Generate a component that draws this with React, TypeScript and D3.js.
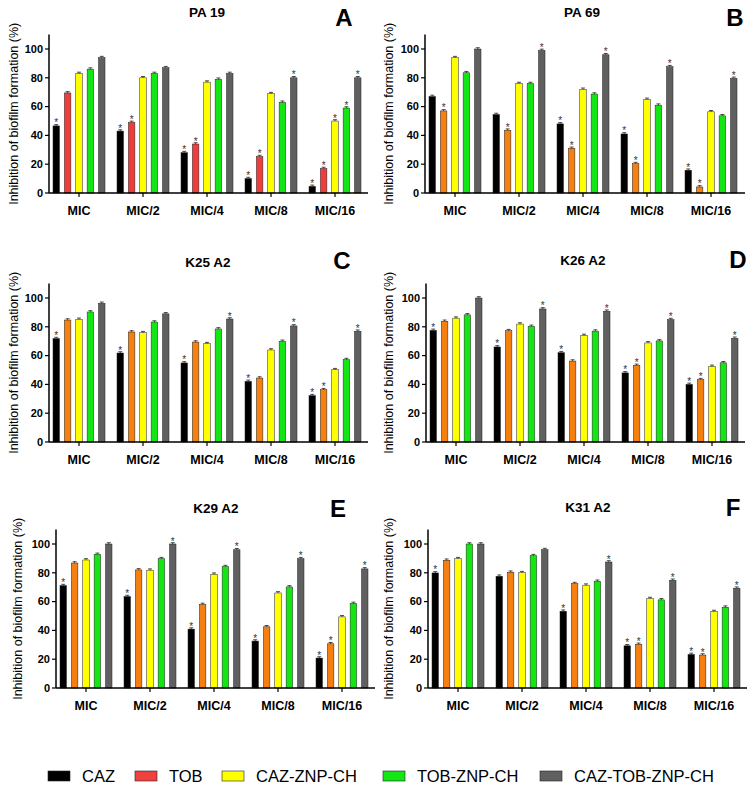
import React from "react";
import * as d3 from "d3";

const categories = ["MIC", "MIC/2", "MIC/4", "MIC/8", "MIC/16"];
const seriesNames = ["CAZ", "TOB", "CAZ-ZNP-CH", "TOB-ZNP-CH", "CAZ-TOB-ZNP-CH"];
const yTicks = [0, 20, 40, 60, 80, 100];
const yLabel = "Inhibition of biofilm formation (%)";

// rows = series (CAZ, TOB, CAZ-ZNP-CH, TOB-ZNP-CH, CAZ-TOB-ZNP-CH), cols = categories
const pa19Values = [
  [46.6, 43, 28, 10, 4.6],
  [69.5, 49, 34, 25.3, 17],
  [83, 80, 77, 69, 50],
  [86, 83, 79, 63, 59],
  [94, 87, 83, 80, 80],
];
const pa19Stars = [
  [1, 1, 1, 1, 1],
  [0, 1, 1, 1, 1],
  [0, 0, 0, 0, 1],
  [0, 0, 0, 0, 1],
  [0, 0, 0, 1, 1],
];
const pa69Values = [
  [67, 54.5, 48, 41, 15.8],
  [57, 43.6, 31, 20.4, 4.2],
  [94, 76, 72, 65, 56.4],
  [83.5, 76, 68.7, 61, 53.6],
  [100, 99, 96, 87.7, 79.6],
];
const pa69Stars = [
  [0, 0, 1, 1, 1],
  [1, 1, 1, 1, 1],
  [0, 0, 0, 0, 0],
  [0, 0, 0, 0, 0],
  [0, 1, 1, 1, 1],
];
const k25Values = [
  [71.8, 61.8, 54.9, 42.1, 32.2],
  [84.7, 76.4, 69.4, 44.4, 36.3],
  [85.2, 75.9, 68.3, 63.9, 50.2],
  [90.3, 83.3, 78.5, 69.9, 57.2],
  [96.3, 89, 85.4, 80.6, 76.9],
];
const k25Stars = [
  [1, 1, 1, 1, 1],
  [0, 0, 0, 0, 1],
  [0, 0, 0, 0, 0],
  [0, 0, 0, 0, 0],
  [0, 0, 1, 1, 1],
];
const k26Values = [
  [77.5, 66, 62, 48, 40],
  [83.8, 77.3, 56.2, 53.2, 43.3],
  [86, 81.9, 74, 68.8, 52.5],
  [88.3, 80.3, 77, 70.2, 55],
  [100, 92.4, 90.8, 85, 72],
];
const k26Stars = [
  [1, 1, 1, 1, 1],
  [0, 0, 0, 1, 1],
  [0, 0, 0, 0, 0],
  [0, 0, 0, 0, 0],
  [0, 1, 1, 1, 1],
];
const k29Values = [
  [71.1, 63.5, 40.9, 32.6, 20.8],
  [86.8, 82, 58, 42.5, 30.7],
  [88.9, 81.8, 79, 66, 49.4],
  [92.8, 89.8, 84.3, 70.2, 58.7],
  [100, 100, 96, 89.8, 82.7],
];
const k29Stars = [
  [1, 1, 1, 1, 1],
  [0, 0, 0, 0, 1],
  [0, 0, 0, 0, 0],
  [0, 0, 0, 0, 0],
  [0, 1, 1, 1, 1],
];
const k31Values = [
  [79.9, 77.6, 53.3, 29.3, 23.3],
  [88.7, 80.4, 72.5, 30.3, 22.9],
  [89.8, 80.1, 71.4, 62.1, 53.1],
  [100, 91.9, 74.1, 61.2, 56.1],
  [100, 96.1, 87.5, 74.8, 69.3],
];
const k31Stars = [
  [1, 0, 1, 1, 1],
  [0, 0, 0, 1, 1],
  [0, 0, 0, 0, 0],
  [0, 0, 0, 0, 0],
  [0, 0, 1, 1, 1],
];

const colorsA = ["#000000", "#f03c3c", "#ffff00", "#14e614", "#606060"];
const colorsOther = ["#000000", "#f57f0f", "#ffff00", "#14e614", "#606060"];

const panels = [
  { title: "PA 19", letter: "A", values: pa19Values, stars: pa19Stars, colors: colorsA,
    x0: 49, x1: 368, y0: 193, titleX: 207, titleY: 17, letterX: 344, letterY: 26, labX: 13 },
  { title: "PA 69", letter: "B", values: pa69Values, stars: pa69Stars, colors: colorsOther,
    x0: 425, x1: 745, y0: 193, titleX: 582, titleY: 17, letterX: 735, letterY: 26, labX: 388 },
  { title: "K25 A2", letter: "C", values: k25Values, stars: k25Stars, colors: colorsOther,
    x0: 49, x1: 368, y0: 442, titleX: 208, titleY: 267, letterX: 342, letterY: 269, labX: 13 },
  { title: "K26 A2", letter: "D", values: k26Values, stars: k26Stars, colors: colorsOther,
    x0: 426, x1: 745, y0: 442, titleX: 583, titleY: 265, letterX: 738, letterY: 268, labX: 388 },
  { title: "K29 A2", letter: "E", values: k29Values, stars: k29Stars, colors: colorsOther,
    x0: 56, x1: 375, y0: 688, titleX: 216, titleY: 513, letterX: 338, letterY: 517, labX: 17 },
  { title: "K31 A2", letter: "F", values: k31Values, stars: k31Stars, colors: colorsOther,
    x0: 428, x1: 747, y0: 688, titleX: 588, titleY: 512, letterX: 733, letterY: 516, labX: 388 },
];

const FONT = "'Liberation Sans', Arial, sans-serif";

function Panel({ p }: { p: any }) {
  const pxPerUnit = 1.44;
  const y = d3.scaleLinear().domain([0, 110]).range([p.y0, p.y0 - 110 * pxPerUnit]);
  const xg = d3.scaleBand().domain(categories).range([p.x0 - 2, p.x0 - 2 + 320]).padding(0);
  const xb = d3.scaleBand().domain(seriesNames).range([0, 52]).paddingInner(0.43).paddingOuter(0);
  const bw = xb.bandwidth();
  const groupOffset = (xg.bandwidth() - 52) / 2;
  const midY = (y(0) + y(110)) / 2;
  return (
    <g>
      <text x={p.titleX} y={p.titleY} textAnchor="middle" fontFamily={FONT} fontWeight="bold" fontSize={13.5}>{p.title}</text>
      <text x={p.letterX} y={p.letterY} textAnchor="middle" fontFamily={FONT} fontWeight="bold" fontSize={24}>{p.letter}</text>
      <text transform={`translate(${p.labX + 4.5},${midY}) rotate(-90)`} textAnchor="middle" fontFamily={FONT} fontSize={12.5}>{yLabel}</text>
      {p.values.map((row: number[], si: number) =>
        row.map((v: number, ci: number) => {
          const bx = (xg(categories[ci]) as number) + groupOffset + (xb(seriesNames[si]) as number);
          const top = y(v);
          const cx = bx + bw / 2;
          return (
            <g key={`${si}-${ci}`}>
              <rect x={bx} y={top} width={bw} height={y(0) - top} fill={p.colors[si]} stroke="#222" strokeWidth={0.5} />
              <line x1={cx} x2={cx} y1={top} y2={y(v + 0.9)} stroke="#222" strokeWidth={0.8} />
              <line x1={cx - 2} x2={cx + 2} y1={y(v + 0.9)} y2={y(v + 0.9)} stroke="#222" strokeWidth={0.8} />
              {p.stars[si][ci] ? (
                <text x={cx} y={top + 0.5} textAnchor="middle" fontFamily={FONT} fontSize={10} fill="#333">*</text>
              ) : null}
            </g>
          );
        })
      )}
      <line x1={p.x0} x2={p.x0} y1={y(0)} y2={y(110)} stroke="#000" strokeWidth={1.5} />
      <line x1={p.x0} x2={p.x1} y1={y(0)} y2={y(0)} stroke="#000" strokeWidth={1.5} />
      {yTicks.map((t) => (
        <g key={t}>
          <line x1={p.x0 - 4} x2={p.x0} y1={y(t)} y2={y(t)} stroke="#000" strokeWidth={1.2} />
          <text x={p.x0 - 6} y={y(t) + 3.8} textAnchor="end" fontFamily={FONT} fontWeight="bold" fontSize={11}>{t}</text>
        </g>
      ))}
      {categories.map((c) => {
        const cx = (xg(c) as number) + xg.bandwidth() / 2;
        return (
          <g key={c}>
            <line x1={cx} x2={cx} y1={y(0)} y2={y(0) + 4} stroke="#000" strokeWidth={1.2} />
            <text x={cx} y={y(0) + 22} textAnchor="middle" fontFamily={FONT} fontWeight="bold" fontSize={12.5}>{c}</text>
          </g>
        );
      })}
    </g>
  );
}

const legendX = [48, 135, 222, 383, 540];
const legendColors = ["#000000", "#f04040", "#ffff00", "#14e614", "#606060"];

export default function App() {
  return (
    <svg width={753} height={787} style={{ position: "absolute", left: 0, top: 0, background: "#fff" }}>
      <rect x={0} y={0} width={753} height={787} fill="#fff" />
      {panels.map((p) => (
        <Panel key={p.letter} p={p} />
      ))}
      {seriesNames.map((s, i) => (
        <g key={s}>
          <rect x={legendX[i]} y={771} width={22} height={10} fill={legendColors[i]} stroke="#222" strokeWidth={0.6} />
          <text x={legendX[i] + 34} y={782} fontFamily={FONT} fontSize={16.5}>{s}</text>
        </g>
      ))}
    </svg>
  );
}
